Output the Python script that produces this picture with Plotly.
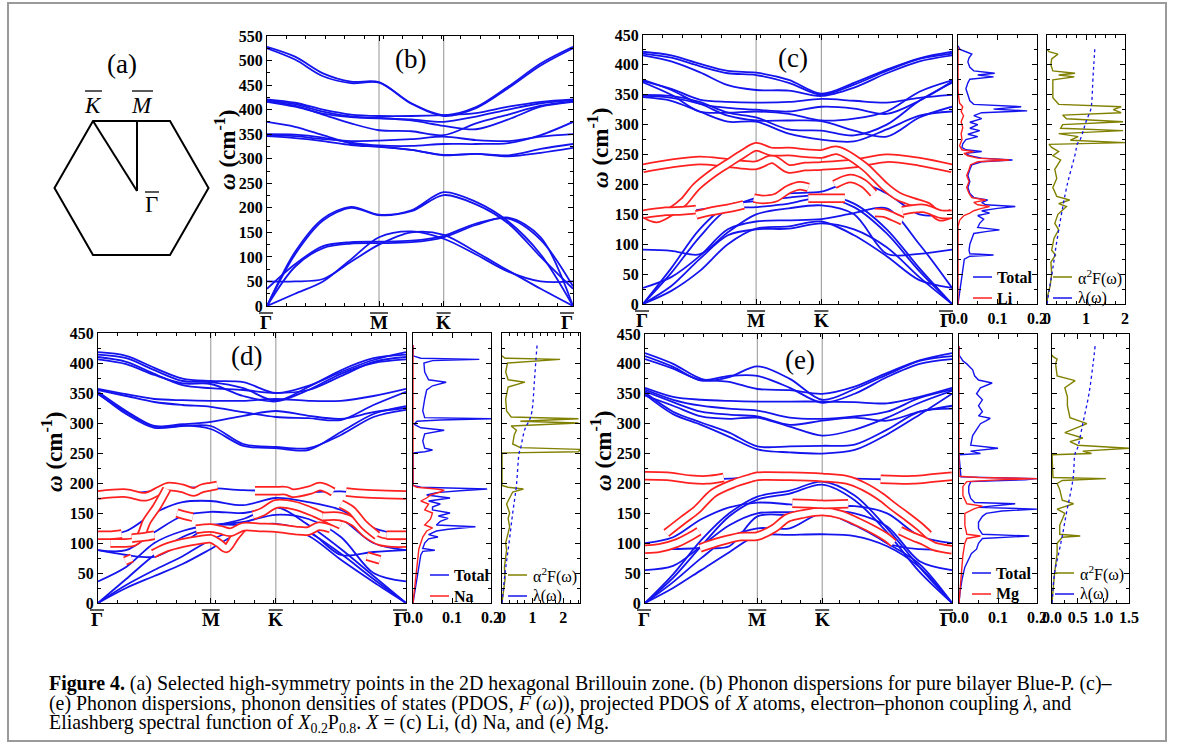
import numpy as np
import plotly.graph_objects as go

W, H = 1182, 749
FONT = "Liberation Serif"
BLUE = "#1414ee"
RED = "#ff2020"
OLIVE = "#808000"

def px(x):
    return x / W

def py(y):
    return 1 - y / H

# ---------------- data ----------------
K_HS = [0.0, 0.5774, 0.9107, 1.5774]          # path distance of Γ, M, K, Γ
HS_LABELS = ["Γ", "M", "K", "Γ"]
S_NODES = [0, .25, .5, .75, 1, 1.5, 2, 2.25, 2.5, 2.75, 3]   # 0=Γ,1=M,2=K,3=Γ

# (b) pure bilayer blue-P
b_bands = [
    [528, 508, 474, 457, 456, 413, 389, 405, 447, 494, 528],
    [525, 502, 468, 454, 455, 412, 387, 403, 444, 490, 525],
    [421, 414, 400, 390, 387, 387, 389, 393, 406, 416, 421],
    [419, 411, 396, 386, 382, 380, 375, 386, 400, 413, 419],
    [417, 408, 390, 372, 358, 356, 348, 372, 390, 408, 417],
    [416, 406, 392, 385, 383, 378, 367, 360, 380, 406, 416],
    [375, 365, 348, 331, 325, 318, 307, 310, 307, 320, 330],
    [350, 349, 343, 333, 327, 326, 330, 330, 332, 348, 375],
    [348, 346, 340, 336, 337, 340, 345, 338, 336, 345, 350],
    [346, 342, 336, 328, 324, 318, 308, 310, 305, 312, 322],
    [0, 110, 178, 202, 186, 195, 232, 212, 172, 105, 0],
    [0, 105, 174, 200, 185, 193, 226, 207, 168, 100, 35],
    [0, 80, 118, 127, 128, 130, 140, 165, 180, 140, 0],
    [35, 85, 122, 130, 131, 133, 143, 168, 178, 135, 40],
    [0, 25, 50, 95, 140, 152, 137, 105, 70, 50, 50],
    [50, 50, 55, 90, 125, 150, 145, 110, 72, 35, 0],
]

# (c) Li0.2P0.8
c_bands = [
    [422, 416, 402, 390, 387, 375, 352, 370, 392, 411, 422],
    [419, 412, 398, 386, 383, 370, 350, 367, 390, 410, 419],
    [416, 406, 388, 366, 358, 357, 348, 362, 386, 406, 416],
    [373, 360, 342, 338, 337, 338, 343, 340, 337, 345, 350],
    [375, 358, 335, 328, 325, 322, 330, 327, 318, 340, 372],
    [371, 350, 322, 320, 322, 318, 307, 310, 322, 355, 374],
    [350, 348, 338, 320, 312, 292, 290, 282, 300, 340, 370],
    [348, 345, 335, 315, 307, 307, 306, 290, 280, 312, 330],
    [346, 340, 322, 305, 305, 285, 275, 272, 292, 315, 322],
    [0, 60, 125, 165, 172, 178, 182, 168, 125, 60, 0],
    [0, 52, 112, 158, 162, 168, 178, 162, 118, 55, 0],
    [27, 45, 80, 125, 138, 140, 142, 152, 160, 100, 27],
    [0, 30, 75, 115, 125, 126, 135, 125, 95, 45, 0],
    [0, 22, 55, 100, 126, 130, 138, 115, 80, 40, 27],
    [91, 89, 83, 120, 150, 160, 165, 150, 84, 84, 91],
    [150, 152, 158, 163, 177, 185, 188, 205, 185, 150, 150],
]
c_red = [
    ([0, .25, .5, .75, 1, 1.25, 1.5, 1.75, 2, 2.25, 2.5, 2.75, 3],
     [227, 235, 240, 236, 232, 242, 226, 230, 231, 235, 244, 238, 227]),
    ([0, .12, .25, .36, .47, .62, .75, .89, 1, 1.23, 1.5, 1.77, 2, 2.12, 2.33, 2.41, 2.49, 2.59, 2.7, 2.81, 2.91, 3],
     [152, 143, 155, 171, 196, 219, 235, 252, 263, 255, 255, 252, 251, 257, 230, 213, 196, 180, 171, 163, 146, 152]),
    ([0, .2, .35, .47], [150, 155, 156, 158]),
    ([.47, .6, .75, .89], [149, 155, 160, 166]),
    ([.98, 1.1, 1.3, 1.5, 1.67, 1.8], [177, 175, 178, 192, 198, 195]),
    ([1.8, 2, 2.18], [177, 177, 177]),
    ([2.1, 2.22, 2.32, 2.4], [200, 210, 202, 185]),
    ([2.41, 2.48, 2.55, 2.62], [153, 152, 146, 139]),
    ([2.62, 2.78, 2.92, 3], [156, 160, 150, 150]),
]

# (d) Na0.2P0.8
d_bands = [
    [418, 412, 392, 374, 370, 368, 350, 362, 385, 405, 418],
    [414, 408, 388, 370, 368, 358, 337, 360, 388, 408, 414],
    [410, 402, 382, 363, 358, 355, 350, 355, 378, 402, 410],
    [406, 398, 380, 366, 365, 345, 336, 355, 382, 400, 406],
    [357, 348, 340, 338, 337, 337, 340, 337, 337, 345, 357],
    [355, 345, 335, 330, 327, 318, 310, 308, 305, 330, 352],
    [352, 320, 295, 298, 302, 312, 320, 312, 307, 318, 325],
    [350, 315, 292, 295, 295, 265, 260, 258, 280, 310, 322],
    [348, 318, 294, 296, 290, 262, 258, 255, 285, 315, 328],
    [112, 120, 150, 168, 170, 163, 175, 168, 155, 125, 112],
    [88, 88, 118, 145, 152, 150, 160, 155, 140, 100, 88],
    [36, 60, 100, 120, 130, 135, 147, 140, 110, 50, 36],
    [0, 40, 80, 110, 127, 140, 160, 130, 90, 45, 0],
    [0, 30, 55, 78, 105, 125, 132, 118, 82, 40, 0],
    [0, 25, 45, 65, 90, 120, 128, 112, 72, 35, 0],
    [88, 80, 77, 100, 128, 130, 130, 120, 80, 85, 88],
    [180, 182, 187, 192, 192, 188, 187, 185, 186, 182, 180],
]
d_red = [
    ([0, .25, .42, .55, .62, .75, .85, .92, 1, 1.1], [180, 183, 177, 188, 194, 191, 185, 191, 194, 196]),
    ([1.68, 1.85, 2, 2.08, 2.13, 2.26, 2.34, 2.44], [187, 187, 187, 187, 183, 188, 194, 185]),
    ([2.54, 2.7, 2.85, 3], [185, 182, 181, 180]),
    ([0, .12, .21], [113, 113, 115]),
    ([.11, .22, .32, .38, .43, .52, .61], [100, 100, 102, 112, 135, 160, 190]),
    ([.3, .4, .5], [108, 110, 113]),
    ([.7, .77, .84], [150, 146, 143]),
    ([.24, .3], [70, 75]),
    ([.49, .6, .75, .9, 1, 1.12, 1.24, 1.37, 1.5], [82, 92, 100, 105, 107, 100, 91, 110, 127]),
    ([.87, 1, 1.15, 1.3, 1.5, 1.75, 2, 2.15, 2.25, 2.33, 2.42], [123, 125, 122, 118, 127, 126, 125, 121, 120, 128, 124]),
    ([1.65, 1.8, 2, 2.15, 2.3, 2.42, 2.5], [146, 152, 165, 162, 150, 138, 130]),
    ([2.36, 2.5, 2.6, 2.7, 2.8, 2.9, 3], [144, 144, 135, 115, 103, 100, 100]),
    ([2.5, 2.58, 2.68, 2.78], [165, 155, 130, 112]),
    ([2.85, 3], [113, 113]),
    ([2.7, 2.8], [78, 72]),
]

# (e) Mg0.2P0.8
e_bands = [
    [418, 400, 375, 370, 358, 356, 350, 362, 385, 406, 418],
    [413, 395, 372, 378, 396, 375, 340, 358, 382, 405, 413],
    [408, 392, 373, 380, 380, 360, 335, 350, 378, 400, 408],
    [360, 345, 340, 338, 337, 337, 337, 336, 334, 345, 360],
    [357, 340, 330, 325, 322, 310, 308, 312, 320, 343, 357],
    [354, 336, 320, 315, 312, 298, 305, 310, 305, 320, 330],
    [352, 320, 302, 285, 262, 262, 263, 265, 290, 320, 325],
    [349, 316, 298, 278, 257, 252, 250, 256, 282, 315, 350],
    [347, 330, 312, 308, 310, 295, 280, 290, 310, 335, 355],
    [0, 48, 105, 150, 178, 188, 203, 180, 125, 60, 0],
    [0, 42, 95, 145, 173, 183, 198, 172, 118, 52, 0],
    [100, 110, 140, 160, 168, 165, 160, 162, 150, 112, 100],
    [55, 62, 95, 130, 150, 152, 155, 150, 128, 70, 55],
    [0, 35, 75, 110, 125, 125, 150, 130, 100, 65, 0],
    [0, 25, 55, 85, 113, 114, 115, 112, 95, 60, 0],
    [90, 90, 92, 95, 145, 147, 148, 140, 100, 90, 90],
    [212, 210, 207, 208, 212, 212, 210, 208, 207, 208, 212],
]
e_red = [
    ([0, .2, .4, .55, .7], [213, 212, 207, 206, 210]),
    ([.19, .34, .46, .61, .79, .94, 1, 1.5, 2, 2.19, 2.32, 2.45, 2.55, 2.65, 2.75, 2.82],
     [117, 139, 156, 184, 200, 209, 212, 212, 210, 206, 195, 178, 161, 145, 128, 114]),
    ([2.45, 2.7, 2.85, 3], [207, 206, 209, 212]),
    ([0, .13, .28, .4, .48], [90, 92, 100, 111, 120]),
    ([.49, .67, .85, 1, 1.26, 1.46, 1.71, 2, 2.14, 2.27, 2.40, 2.50, 2.55],
     [92, 103, 111, 112, 125, 142, 149, 153, 148, 136, 122, 109, 100]),
    ([1.54, 1.8, 2, 2.2], [167, 166, 165, 166]),
    ([2.6, 2.7, 2.79, 2.86, 3], [121, 111, 103, 95, 89]),
]

# PDOS / a2F / lambda : (omega, value) pairs
c_dos_total = [(0,0),(20,.004),(40,.008),(60,.012),(75,.016),(80,.03),(82,.09),(84,.03),(90,.028),(100,.03),(110,.035),(118,.04),(121,.07),(124,.105),(128,.05),(135,.055),(142,.065),(148,.05),(152,.08),(156,.06),(160,.10),(163,.145),(166,.07),(170,.06),(174,.075),(178,.04),(185,.03),(195,.025),(205,.03),(215,.025),(225,.03),(233,.035),(238,.06),(241,.138),(244,.06),(248,.03),(252,.02),(255,.06),(258,.02),(262,.01),(268,.012),(275,.02),(280,.05),(284,.025),(290,.055),(294,.03),(300,.05),(304,.03),(310,.06),(315,.04),(320,.06),(323,.175),(326,.09),(330,.16),(334,.04),(340,.03),(350,.025),(360,.02),(370,.025),(376,.03),(380,.09),(383,.05),(386,.093),(390,.04),(396,.03),(405,.025),(412,.028),(418,.035),(422,.02),(426,.005),(432,0)]
c_dos_x = [(0,0),(130,0),(140,.004),(148,.015),(152,.03),(156,.04),(160,.06),(163,.08),(166,.05),(170,.04),(174,.07),(178,.035),(185,.028),(195,.022),(205,.028),(215,.022),(225,.028),(233,.032),(238,.05),(241,.13),(244,.05),(248,.025),(252,.015),(255,.04),(258,.01),(265,.004),(275,.01),(285,.008),(295,.012),(305,.008),(315,.014),(322,.008),(330,.012),(336,.004),(345,.002),(360,0),(430,0)]
c_a2f = [(0,0),(15,.02),(30,.08),(50,.12),(70,.1),(82,.22),(90,.12),(110,.18),(124,.3),(135,.2),(150,.28),(163,.5),(168,.3),(174,.58),(180,.25),(195,.15),(210,.25),(225,.2),(241,.35),(248,.15),(255,.3),(262,.12),(267,.05),(270,2.0),(274,.6),(280,.8),(285,.3),(290,1.95),(294,.35),(300,.4),(305,1.95),(310,.5),(316,.4),(320,1.9),(325,1.7),(330,1.9),(334,.3),(345,.15),(360,.15),(375,.15),(380,.7),(383,.3),(386,.72),(390,.15),(400,.1),(410,.12),(418,.28),(422,.05),(426,0)]
c_lam = [(0,0),(29,.07),(60,.15),(100,.24),(150,.37),(200,.52),(250,.72),(268,.78),(275,.85),(290,.93),(305,1.0),(325,1.12),(340,1.15),(380,1.18),(400,1.2),(432,1.23)]

d_dos_total = [(0,0),(20,.005),(40,.01),(60,.015),(80,.02),(86,.025),(88,.056),(91,.025),(100,.03),(107,.04),(110,.064),(114,.04),(120,.06),(123,.09),(127,.16),(130,.06),(136,.07),(141,.09),(145,.065),(150,.095),(155,.05),(160,.05),(165,.07),(170,.04),(175,.095),(180,.035),(184,.06),(187,.12),(190,.19),(193,.02),(196,0),(250,0),(252,.03),(255,.05),(258,.03),(270,.025),(282,.03),(288,.08),(292,.02),(298,.003),(303,.01),(305,.07),(307,.2),(309,.03),(320,.025),(340,.03),(355,.035),(362,.05),(368,.085),(372,.04),(385,.03),(400,.028),(404,.05),(406,.17),(408,.02),(412,0),(430,0)]
d_dos_x = [(0,0),(20,.003),(50,.008),(70,.012),(90,.015),(100,.02),(110,.025),(120,.035),(125,.05),(130,.03),(140,.045),(150,.05),(155,.03),(165,.04),(170,.02),(175,.035),(180,.045),(185,.07),(188,.08),(190,.06),(193,.01),(196,0),(430,0)]
d_a2f = [(0,0),(20,.05),(40,.1),(60,.08),(88,.15),(100,.12),(127,.25),(141,.2),(150,.25),(165,.15),(175,.25),(185,.35),(190,.7),(193,.2),(196,0),(250,0),(252,2.5),(256,2.55),(259,.6),(265,.35),(280,.4),(288,.47),(295,.3),(300,2.5),(303,.6),(307,2.5),(310,.3),(320,.15),(340,.12),(360,.2),(368,.75),(372,.2),(385,.12),(400,.18),(406,1.9),(408,.1),(412,0)]
d_lam = [(0,0),(50,.1),(100,.23),(150,.35),(195,.47),(250,.56),(256,.6),(290,.75),(305,.9),(320,.98),(370,1.06),(406,1.11),(432,1.15)]

e_dos_total = [(0,0),(20,.003),(40,.008),(60,.015),(83,.032),(90,.045),(100,.05),(108,.06),(112,.18),(115,.06),(125,.05),(135,.05),(145,.06),(150,.07),(154,.11),(157,.2),(160,.05),(163,.1),(166,.144),(168,.04),(175,.03),(185,.025),(195,.025),(203,.03),(206,.17),(208,.2),(211,.005),(248,0),(250,.055),(254,.03),(259,.1),(264,.03),(280,.035),(295,.05),(300,.055),(305,.07),(309,.08),(313,.05),(320,.06),(330,.05),(340,.06),(350,.045),(360,.055),(368,.085),(373,.05),(380,.04),(390,.035),(400,.02),(405,.01),(410,.005),(415,0),(430,0)]
e_dos_x = [(0,0),(40,.005),(80,.01),(100,.015),(108,.02),(112,.055),(115,.02),(130,.015),(150,.015),(158,.04),(162,.06),(166,.02),(180,.01),(195,.01),(203,.02),(206,.1),(208,.2),(210,.05),(212,0),(430,0)]
e_a2f = [(0,0),(50,.05),(83,.1),(100,.1),(110,.2),(112,.55),(115,.15),(130,.15),(150,.25),(157,.1),(166,.42),(172,.2),(190,.15),(200,.1),(205,.2),(208,1.05),(210,.02),(248,0),(250,.77),(254,.6),(259,1.5),(264,.5),(270,.35),(276,.6),(285,.25),(300,.68),(310,.35),(330,.3),(345,.3),(360,.25),(372,.45),(380,.1),(400,.07),(408,.1),(412,.02),(415,0)]
e_lam = [(0,0),(50,.05),(83,.13),(112,.2),(150,.28),(208,.41),(250,.45),(260,.5),(300,.6),(350,.72),(400,.8),(430,.84)]

# ---------------- layout helpers ----------------
def s2k(s):
    return np.interp(s, [0, 1, 2, 3], K_HS)

fig = go.Figure()
layout = dict(width=W, height=H,
              margin=dict(l=0, r=0, t=0, b=0, pad=0, autoexpand=False),
              paper_bgcolor="white", plot_bgcolor="white", showlegend=False,
              shapes=[], annotations=[])

TICKFONT = dict(family=FONT, size=16, color="black", weight="bold")

def axis_base():
    return dict(showline=True, linecolor="black", linewidth=1, mirror="ticks",
                ticks="inside", ticklen=5, tickwidth=1, tickcolor="black",
                showgrid=False, zeroline=False, tickfont=TICKFONT, fixedrange=True,
                automargin=False)

def add_axes(n, xpix, ypix, xrange, yrange, xtickvals=None, xticktext=None,
             xminor=None, show_ylabels=True, ydtick=50, xlabels=True):
    xa = axis_base()
    xa.update(domain=[px(xpix[0]), px(xpix[1])], range=xrange,
              anchor="y%d" % n if n > 1 else "y")
    if xtickvals is not None:
        xa.update(tickmode="array", tickvals=xtickvals,
                  ticktext=xticktext if xticktext else None)
    if xminor:
        xa["minor"] = dict(ticks="inside", ticklen=3, tickcolor="black", dtick=xminor, tick0=0)
    xa["showticklabels"] = xlabels
    ya = axis_base()
    ya.update(domain=[py(ypix[1]), py(ypix[0])], range=yrange,
              anchor="x%d" % n if n > 1 else "x", dtick=ydtick, tick0=0,
              showticklabels=show_ylabels,
              minor=dict(ticks="inside", ticklen=3, tickcolor="black", dtick=25, tick0=0))
    key = "" if n == 1 else str(n)
    layout["xaxis" + key] = xa
    layout["yaxis" + key] = ya

def refs(n):
    return ("x", "y") if n == 1 else ("x%d" % n, "y%d" % n)

def pline(x0, y0, x1, y1, color="black", width=1.5):
    layout["shapes"].append(dict(type="line", xref="paper", yref="paper",
                                 x0=px(x0), y0=py(y0), x1=px(x1), y1=py(y1),
                                 line=dict(color=color, width=width)))

def ptext(x, y, text, size=17, xanchor="center", yanchor="middle", angle=0, color="black"):
    layout["annotations"].append(dict(xref="paper", yref="paper", x=px(x), y=py(y),
                                      text=text, showarrow=False, xanchor=xanchor,
                                      yanchor=yanchor, textangle=angle,
                                      font=dict(family=FONT, size=size, color=color)))

def dispersion(n, xpix, ypix, ymax, bands, reds, label, lbl_pos, title_pos):
    add_axes(n, xpix, ypix, [0, K_HS[-1]], [0, ymax], xtickvals=K_HS,
             xminor=0.1, xlabels=False)
    xr, yr = refs(n)
    for kv in (K_HS[1], K_HS[2]):
        layout["shapes"].append(dict(type="line", xref=xr, yref=yr + " domain",
                                     x0=kv, x1=kv, y0=0, y1=1, layer="below",
                                     line=dict(color="#a6a6a6", width=1.2)))
    kx = s2k(S_NODES)
    for b in bands:
        fig.add_trace(go.Scatter(x=kx, y=b, mode="lines", xaxis=xr, yaxis=yr,
                                 line=dict(color=BLUE, width=1.8, shape="spline", smoothing=0.9),
                                 hoverinfo="skip"))
    for s, w in reds:
        kk = s2k(s)
        fig.add_trace(go.Scatter(x=kk, y=w, mode="lines", xaxis=xr, yaxis=yr,
                                 line=dict(color=RED, width=9.5, shape="spline", smoothing=0.9),
                                 hoverinfo="skip"))
        fig.add_trace(go.Scatter(x=kk, y=w, mode="lines", xaxis=xr, yaxis=yr,
                                 line=dict(color="white", width=6, shape="spline", smoothing=0.9),
                                 hoverinfo="skip"))
    # overlined high-symmetry labels (end labels nudged inward as in the original)
    nudges = [-1, 0, 0, -6]
    for kv, lab, dx in zip(K_HS, HS_LABELS, nudges):
        xp = xpix[0] + kv / K_HS[-1] * (xpix[1] - xpix[0]) + dx
        ptext(xp, ypix[1] + 16, "<b>%s</b>" % lab, size=19)
        hw = 7 if lab != "M" else 9
        pline(xp - hw, ypix[1] + 7, xp + hw, ypix[1] + 7, width=1.3)
    ptext(lbl_pos[0], lbl_pos[1], label, size=27)
    ptext(title_pos[0], title_pos[1], "<b><i>ω</i> (cm<sup>-1</sup>)</b>", size=23, angle=-90)

def unzip(pairs):
    w = [p[0] for p in pairs]
    v = [p[1] for p in pairs]
    return w, v

def pdos(n, xpix, ypix, total, part, elem, leg_x, leg_y):
    add_axes(n, xpix, ypix, [0, 0.2], [0, 450], xtickvals=[0, 0.1, 0.2],
             xticktext=["0.0", "0.1", "0.2"], xminor=0.05, show_ylabels=False)
    xr, yr = refs(n)
    w, v = unzip(total)
    fig.add_trace(go.Scatter(x=v, y=w, mode="lines", xaxis=xr, yaxis=yr,
                             line=dict(color=BLUE, width=1.4), hoverinfo="skip"))
    w, v = unzip(part)
    fig.add_trace(go.Scatter(x=v, y=w, mode="lines", xaxis=xr, yaxis=yr,
                             line=dict(color=RED, width=1.4), hoverinfo="skip"))
    for (lab, col, dy) in (("Total", BLUE, 0), (elem, RED, 21)):
        pline(leg_x, leg_y + dy, leg_x + 19, leg_y + dy, color=col, width=1.5)
        ptext(leg_x + 22, leg_y + dy, "<b>%s</b>" % lab, size=16, xanchor="left")

def a2f(n, xpix, ypix, xmax, tv, tt, a2, lam, leg_x, leg_y):
    add_axes(n, xpix, ypix, [0, xmax], [0, 450], xtickvals=tv, xticktext=tt,
             xminor=0.25, show_ylabels=False)
    xr, yr = refs(n)
    w, v = unzip(a2)
    fig.add_trace(go.Scatter(x=v, y=w, mode="lines", xaxis=xr, yaxis=yr,
                             line=dict(color=OLIVE, width=1.4), hoverinfo="skip"))
    w, v = unzip(lam)
    fig.add_trace(go.Scatter(x=v, y=w, mode="lines", xaxis=xr, yaxis=yr,
                             line=dict(color=BLUE, width=1.3, dash="dot", shape="spline"),
                             hoverinfo="skip"))
    pline(leg_x, leg_y, leg_x + 19, leg_y, color=OLIVE, width=1.5)
    ptext(leg_x + 23, leg_y, "α<sup>2</sup>F(ω)", size=16, xanchor="left")
    pline(leg_x, leg_y + 21, leg_x + 19, leg_y + 21, color=BLUE, width=1.5)
    ptext(leg_x + 23, leg_y + 21, "λ(ω)", size=16, xanchor="left")

# ---------------- panels ----------------
dispersion(1, (267, 573), (36, 306), 550, b_bands, [], "(b)", (410, 59), (226, 150))

dispersion(2, (643, 952), (35, 304), 450, c_bands, c_red, "(c)", (793, 58), (598, 148))
pdos(3, (958, 1037), (35, 304), c_dos_total, c_dos_x, "Li", 973, 277)
a2f(4, (1047, 1125), (35, 304), 2.0, [0, 1, 2], ["0", "1", "2"], c_a2f, c_lam, 1053, 277)

dispersion(5, (98, 406), (333, 603), 450, d_bands, d_red, "(d)", (246, 356), (52, 452))
pdos(6, (413, 491), (333, 603), d_dos_total, d_dos_x, "Na", 430, 575)
a2f(7, (502, 580), (333, 603), 2.55, [0, 1, 2], ["0", "1", "2"], d_a2f, d_lam, 508, 575)

dispersion(8, (645, 952), (334, 603), 450, e_bands, e_red, "(e)", (800, 360), (601, 450))
pdos(9, (959, 1037), (334, 603), e_dos_total, e_dos_x, "Mg", 972, 573)
a2f(10, (1052, 1129), (334, 603), 1.5, [0, 0.5, 1, 1.5], ["0.0", "0.5", "1.0", "1.5"],
    e_a2f, e_lam, 1055, 573)

# ---------------- panel (a): Brillouin zone sketch ----------------
hexagon = [(93, 121), (170, 121), (208.5, 188), (170, 255), (93, 255), (54.5, 188)]
path = "M " + " L ".join("%f,%f" % (px(x), py(y)) for x, y in hexagon) + " Z"
layout["shapes"].append(dict(type="path", xref="paper", yref="paper", path=path,
                             line=dict(color="black", width=2)))
pline(93, 121, 137, 191, width=2)
pline(137, 121, 137, 191, width=2)
ptext(122, 64, "(a)", size=27)
ptext(93, 105, "<i>K</i>", size=23)
pline(85, 91, 102, 91, width=1.3)
ptext(142, 105, "<i>M</i>", size=23)
pline(132, 91, 153, 91, width=1.3)
ptext(152, 205, "Γ", size=23)
pline(145, 192, 159, 192, width=1.3)

# ---------------- frame and caption ----------------
layout["shapes"].append(dict(type="rect", xref="paper", yref="paper",
                             x0=px(8), y0=py(741), x1=px(1166), y1=py(3),
                             line=dict(color="#9a9a9a", width=2)))
cap = [
    "<b>Figure 4.</b> (a) Selected high-symmetry points in the 2D hexagonal Brillouin zone. "
    "(b) Phonon dispersions for pure bilayer Blue-P. (c)–",
    "(e) Phonon dispersions, phonon densities of states (PDOS, <i>F</i> (<i>ω</i>)), projected "
    "PDOS of <i>X</i> atoms, electron–phonon coupling <i>λ</i>, and",
    "Eliashberg spectral function of <i>X</i><sub>0.2</sub>P<sub>0.8</sub>. <i>X</i> = (c) Li, "
    "(d) Na, and (e) Mg.",
]
for i, line in enumerate(cap):
    ptext(47, 683 + 20 * i, line, size=19.9, xanchor="left")

fig.update_layout(**layout)
fig.write_html("out.html",
               config={"displayModeBar": False},
               post_script="document.body.style.margin='0px';"
                           "document.body.style.padding='0px';")
